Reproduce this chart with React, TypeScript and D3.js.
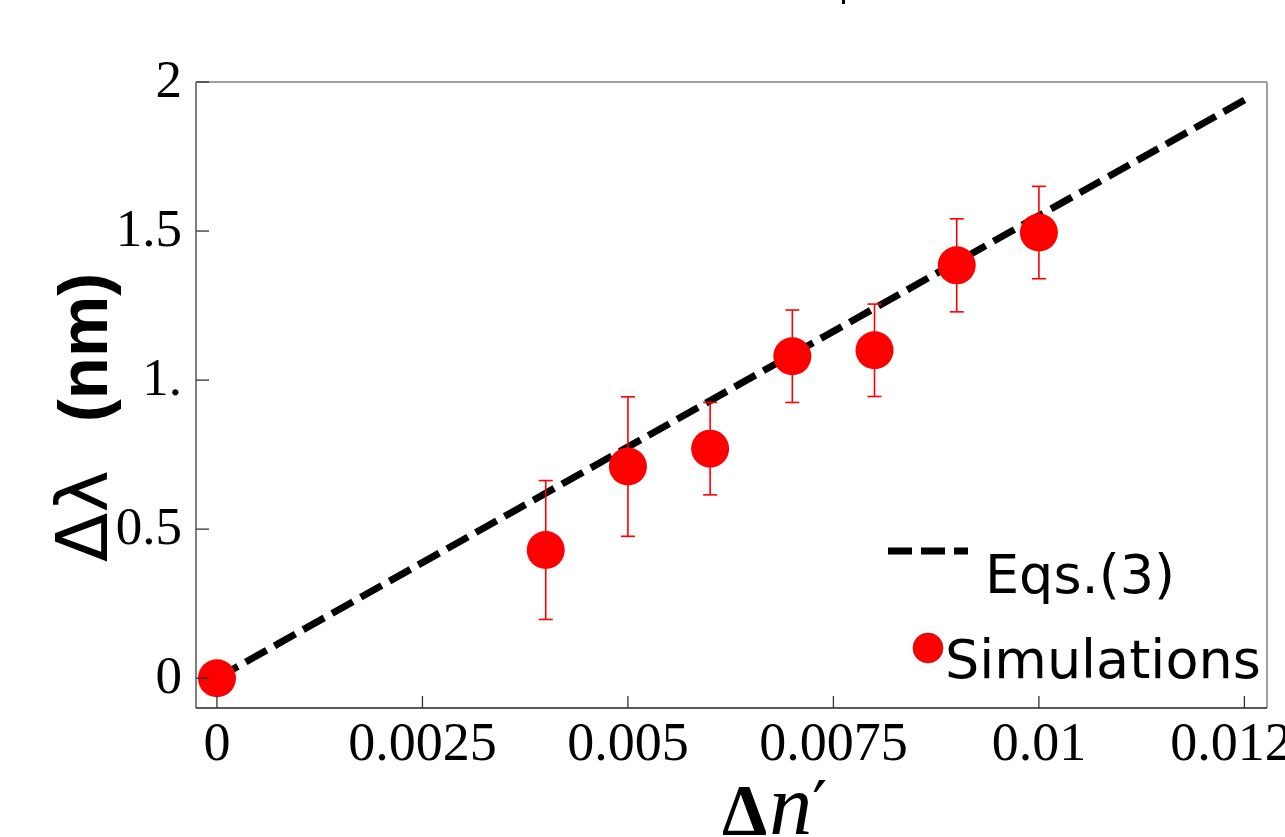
import * as d3 from 'd3';

// simulation points (Δn', Δλ in nm, error half-width)
const simX = [0, 0.004, 0.005, 0.006, 0.007, 0.008, 0.009, 0.01];
const simY = [0, 0.43, 0.71, 0.77, 1.08, 1.10, 1.385, 1.495];
const simErr = [0, 0.233, 0.234, 0.155, 0.155, 0.155, 0.156, 0.155];

// Eqs.(3) line end points
const eqX = [0, 0.01255];
const eqY = [0, 1.947];

const xTicks = [0, 0.0025, 0.005, 0.0075, 0.01, 0.0125];
const xTickLabels = ['0', '0.0025', '0.005', '0.0075', '0.01', '0.0125'];
const yTicks = [0, 0.5, 1, 1.5, 2];
const yTickLabels = ['0', '0.5', '1.', '1.5', '2'];

const W = 1285;
const H = 837;

export default function App() {
  const plot = { left: 196, right: 1267, top: 82, bottom: 708 };

  const x = d3.scaleLinear().domain([-0.000255, 0.012775]).range([plot.left, plot.right]);
  const y = d3.scaleLinear().domain([-0.1, 2]).range([plot.bottom, plot.top]);

  const line = d3.line<number>()
    .x((d) => x(d))
    .y((_, i) => y(eqY[i]));

  const serif = '"Liberation Serif", "Times New Roman", serif';
  const sans = '"DejaVu Sans", sans-serif';

  return (
    <svg width={W} height={H} style={{ position: 'absolute', left: 0, top: 0, background: '#fff' }}>
      <rect x={0} y={0} width={W} height={H} fill="#fff" />
      {/* remnant of a clipped title */}
      <rect x={842} y={0} width={3} height={4} fill="#000" />

      {/* frame */}
      <line x1={plot.left} x2={plot.right} y1={plot.top} y2={plot.top} stroke="#808080" strokeWidth={1.5} />
      <line x1={plot.right} x2={plot.right} y1={plot.top} y2={plot.bottom} stroke="#808080" strokeWidth={1.5} />
      <line x1={plot.left} x2={plot.left} y1={plot.top} y2={plot.bottom} stroke="#808080" strokeWidth={2} />
      <line x1={plot.left} x2={plot.right} y1={plot.bottom} y2={plot.bottom} stroke="#222" strokeWidth={1.5} />

      {/* eq line */}
      <path d={line(eqX) ?? ''} fill="none" stroke="#000" strokeWidth={7} strokeDasharray="24 9" />

      {/* error bars */}
      {simX.map((v, i) => simErr[i] > 0 && (
        <g key={'e' + i} stroke="#ff0000" strokeWidth={1.6}>
          <line x1={x(v)} x2={x(v)} y1={y(simY[i] + simErr[i])} y2={y(simY[i] - simErr[i])} />
          <line x1={x(v) - 7} x2={x(v) + 7} y1={y(simY[i] + simErr[i])} y2={y(simY[i] + simErr[i])} />
          <line x1={x(v) - 7} x2={x(v) + 7} y1={y(simY[i] - simErr[i])} y2={y(simY[i] - simErr[i])} />
        </g>
      ))}

      {/* points */}
      {simX.map((v, i) => (
        <circle key={'p' + i} cx={x(v)} cy={y(simY[i])} r={19} fill="#ff0000" />
      ))}

      {/* ticks */}
      {yTicks.map((t) => (
        <line key={'yt' + t} x1={plot.left} x2={plot.left + 13} y1={y(t)} y2={y(t)} stroke="#333" strokeWidth={1.3} />
      ))}
      {xTicks.map((t) => (
        <line key={'xt' + t} x1={x(t)} x2={x(t)} y1={plot.bottom} y2={plot.bottom - 12} stroke="#333" strokeWidth={1.3} />
      ))}

      {/* tick labels */}
      {yTicks.map((t, i) => (
        <text key={'yl' + t} x={182} y={y(t) - 4} dy="0.35em" textAnchor="end"
          fontFamily={serif} fontSize={53} fill="#000">{yTickLabels[i]}</text>
      ))}
      {xTicks.map((t, i) => (
        <text key={'xl' + t} x={x(t)} y={760} textAnchor="middle"
          fontFamily={serif} fontSize={54} fill="#000">{xTickLabels[i]}</text>
      ))}

      {/* axis titles */}
      <text x={722} y={834} textAnchor="start" fill="#000" fontFamily={serif}>
        <tspan fontWeight="bold" fontSize={72}>Δ</tspan>
        <tspan fontStyle="italic" fontSize={86} dx={2}>n</tspan>
        <tspan fontFamily='"DejaVu Serif", serif' fontSize={66} dy={-6}>′</tspan>
      </text>
      <text transform="translate(107,562) rotate(-90)" textAnchor="start" fill="#000">
        <tspan fontFamily={sans} fontSize={72}>Δλ</tspan>
        <tspan fontFamily='"Liberation Sans", Arial, sans-serif' fontWeight="bold" fontSize={69} dx={48}>(nm)</tspan>
      </text>

      {/* legend */}
      <line x1={888} x2={968} y1={551} y2={551} stroke="#000" strokeWidth={7} strokeDasharray="24 9" />
      <text x={985} y={593} fontFamily={sans} fontSize={54} fill="#000">Eqs.(3)</text>
      <circle cx={928} cy={648} r={15} fill="#ff0000" stroke="#9a2020" strokeWidth={0.8} />
      <text x={945} y={678} fontFamily={sans} fontSize={54} fill="#000">Simulations</text>
    </svg>
  );
}
